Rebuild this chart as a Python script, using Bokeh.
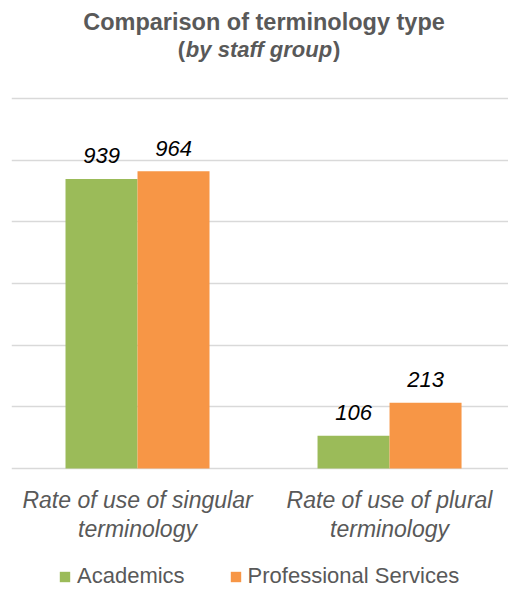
from bokeh.plotting import figure
from bokeh.models import Range1d, FixedTicker, Legend, LegendItem, ColumnDataSource
from bokeh.transform import dodge
from bokeh.core.properties import value
from bokeh.embed import file_html
from bokeh.resources import INLINE

# ---- data ----
categories = ["Rate of use of singular\nterminology", "Rate of use of plural\nterminology"]
academics = [939, 106]
professional = [964, 213]
series_names = ["Academics", "Professional Services"]
y_ticks = [0, 200, 400, 600, 800, 1000, 1200]
title_line1 = "Comparison of terminology type"
title_line2 = ["(", "by staff group", ")"]

GREEN = "#9BBB59"
ORANGE = "#F79646"
GREY = "#595959"
FONT = "Liberation Sans"

xpos = [i + 0.5 for i in range(len(categories))]
lines = [c.split("\n") for c in categories]
src = ColumnDataSource(dict(
    x=xpos,
    academics=academics,
    professional=professional,
    acad_lbl=[str(v) for v in academics],
    prof_lbl=[str(v) for v in professional],
    line1=[ln[0] for ln in lines],
    line2=[ln[1] for ln in lines],
))

# the frame fills the whole canvas; everything is placed via the data scales
p = figure(width=508, height=589, output_backend="svg", toolbar_location=None,
           x_range=Range1d(0, 1.972), y_range=Range1d(-392.4, 1517.8),
           min_border_left=11, min_border_right=0, min_border_top=0, min_border_bottom=0,
           x_axis_location=None, y_axis_location=None, title=None)
p.outline_line_color = None
p.background_fill_color = "white"
p.border_fill_color = "white"

p.xgrid.visible = False
p.ygrid.ticker = FixedTicker(ticks=y_ticks)
p.ygrid.grid_line_color = "#d9d9d9"
p.ygrid.grid_line_width = 1.5

bw = 0.2857
r1 = p.vbar(x=dodge("x", -bw / 2), top="academics", width=bw, bottom=y_ticks[0],
            fill_color=GREEN, line_color=None, source=src)
r2 = p.vbar(x=dodge("x", bw / 2), top="professional", width=bw, bottom=y_ticks[0],
            fill_color=ORANGE, line_color=None, source=src)

# value labels
for col, lbl, off in (("academics", "acad_lbl", -bw / 2), ("professional", "prof_lbl", bw / 2)):
    p.text(x=dodge("x", off), y=col, text=lbl, source=src,
           text_align="center", text_baseline="alphabetic", y_offset=-23,
           text_font=value(FONT), text_font_style="italic", text_font_size="22px",
           text_color="#000000")

# category labels (two lines) under the baseline
for col, yoff in (("line1", 31), ("line2", 60)):
    p.text(x="x", y=y_ticks[0], text=col, source=src, y_offset=yoff,
           text_align="center", text_baseline="alphabetic",
           text_font=value(FONT), text_font_style="italic", text_font_size="23px",
           text_color=GREY)

# title
mid = (p.x_range.start + p.x_range.end) / 2
top = y_ticks[-1]
p.text(x=[mid], y=[top], text=[title_line1], x_offset=4, y_offset=-76,
       text_align="center", text_baseline="alphabetic",
       text_font=value(FONT), text_font_style="bold", text_font_size="23.5px",
       text_color=GREY)
for txt, align, xoff, style in ((title_line2[0], "right", -75, "bold"),
                                (title_line2[1], "center", -1, "bold italic"),
                                (title_line2[2], "left", 73, "bold")):
    p.text(x=[mid], y=[top], text=[txt], x_offset=xoff, y_offset=-49,
           text_align=align, text_baseline="alphabetic",
           text_font=value(FONT), text_font_style=style, text_font_size="22px",
           text_color=GREY)

legend = Legend(items=[LegendItem(label=series_names[0], renderers=[r1]),
                       LegendItem(label=series_names[1], renderers=[r2])],
                orientation="horizontal", location=(47, 0),
                glyph_width=13, glyph_height=13, label_standoff=6, spacing=44,
                label_text_font=FONT, label_text_font_size="22px", label_text_color=GREY,
                border_line_color=None, background_fill_alpha=0, margin=0, padding=0)
p.add_layout(legend)

open("out.html", "w").write(file_html(p, INLINE))
